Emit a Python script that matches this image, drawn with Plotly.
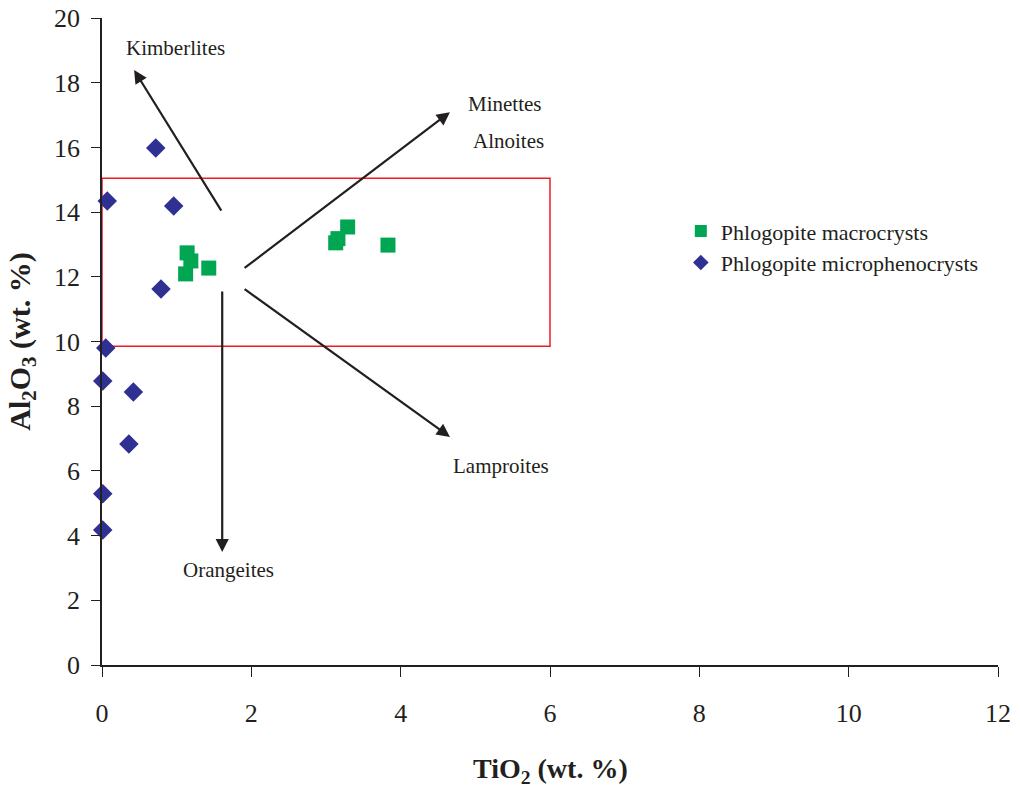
import plotly.graph_objects as go

# Data (TiO2 wt.%, Al2O3 wt.%)
macro_tio2 = [1.14, 1.19, 1.12, 1.43, 3.13, 3.16, 3.29, 3.83]
macro_al2o3 = [12.74, 12.49, 12.09, 12.27, 13.05, 13.18, 13.54, 12.98]

micro_tio2 = [0.72, 0.07, 0.96, 0.79, 0.05, 0.01, 0.42, 0.36, 0.01, 0.01]
micro_al2o3 = [15.98, 14.34, 14.19, 11.62, 9.80, 8.78, 8.44, 6.83, 5.29, 4.17]

# Field box
box_x = [0, 6]
box_y = [9.85, 15.05]

# Arrows: tail (x0, y0) -> tip (x1, y1)
arrow_names = ["Kimberlites", "Minettes", "Lamproites", "Orangeites"]
arrow_x0 = [1.61, 1.89, 1.89, 1.61]
arrow_y0 = [14.0, 12.24, 11.65, 11.59]
arrow_x1 = [0.43, 4.66, 4.66, 1.61]
arrow_y1 = [18.39, 17.09, 7.05, 3.49]

# Labels
label_text = ["Kimberlites", "Minettes", "Alnoites", "Lamproites", "Orangeites"]
label_x = [0.98, 5.4, 5.45, 5.34, 1.69]
label_y = [19.06, 17.34, 16.2, 6.15, 2.94]

x_ticks = [0, 2, 4, 6, 8, 10, 12]
y_ticks = [0, 2, 4, 6, 8, 10, 12, 14, 16, 18, 20]

FONT = "Liberation Serif"
INK = "#231F20"

fig = go.Figure()
fig.add_trace(go.Scatter(
    x=macro_tio2, y=macro_al2o3, mode="markers", name="Phlogopite macrocrysts",
    marker=dict(symbol="square", size=15, color="#00A651", line=dict(width=0)),
))
fig.add_trace(go.Scatter(
    x=micro_tio2, y=micro_al2o3, mode="markers", name="Phlogopite microphenocrysts",
    marker=dict(symbol="diamond", size=15, color="#2E3192", line=dict(width=0)),
    cliponaxis=False,
))

fig.add_shape(type="rect", xref="x", yref="y", x0=box_x[0], x1=box_x[1],
              y0=box_y[0], y1=box_y[1], line=dict(color="#ED1C24", width=1.5),
              layer="below")

for i in range(len(arrow_names)):
    fig.add_annotation(x=arrow_x1[i], y=arrow_y1[i], ax=arrow_x0[i], ay=arrow_y0[i],
                       xref="x", yref="y", axref="x", ayref="y", text="",
                       showarrow=True, arrowhead=2, arrowsize=1.2, arrowwidth=2.2,
                       arrowcolor=INK)

for t, lx, ly in zip(label_text, label_x, label_y):
    fig.add_annotation(x=lx, y=ly, xref="x", yref="y", text=t, showarrow=False,
                       font=dict(family=FONT, size=21, color=INK))

# x-axis title
fig.add_annotation(x=0.501, y=0, xref="paper", yref="paper", yanchor="top",
                   yshift=-86, text="<b>TiO<sub>2</sub> (wt. %)</b>", showarrow=False,
                   font=dict(family=FONT, size=28, color=INK))

fig.update_layout(
    width=1020, height=791,
    margin=dict(l=102, r=22, t=18, b=126),
    paper_bgcolor="white", plot_bgcolor="white",
    font=dict(family=FONT, color=INK),
    showlegend=True,
    legend=dict(x=0.646, y=0.703, xanchor="left", yanchor="top",
                font=dict(family=FONT, size=22, color=INK),
                bgcolor="rgba(0,0,0,0)", itemsizing="constant", tracegroupgap=2,
                itemwidth=30),
)
fig.update_xaxes(range=[0, 12], tickvals=x_ticks, ticks="outside", ticklen=10,
                 tickcolor=INK, showline=True, linecolor=INK, linewidth=1.5,
                 showgrid=False, zeroline=False, automargin=False,
                 ticklabelstandoff=14,
                 tickfont=dict(family=FONT, size=26, color=INK))
fig.update_yaxes(range=[0, 20], tickvals=y_ticks, ticks="outside", ticklen=9,
                 tickcolor=INK, showline=True, linecolor=INK, linewidth=1.5,
                 showgrid=False, zeroline=False, automargin=False,
                 ticklabelstandoff=6,
                 tickfont=dict(family=FONT, size=26, color=INK),
                 title=dict(text="<b>Al<sub>2</sub>O<sub>3</sub> (wt. %)</b>",
                            font=dict(family=FONT, size=30, color=INK)))

fig.write_html("out.html")
